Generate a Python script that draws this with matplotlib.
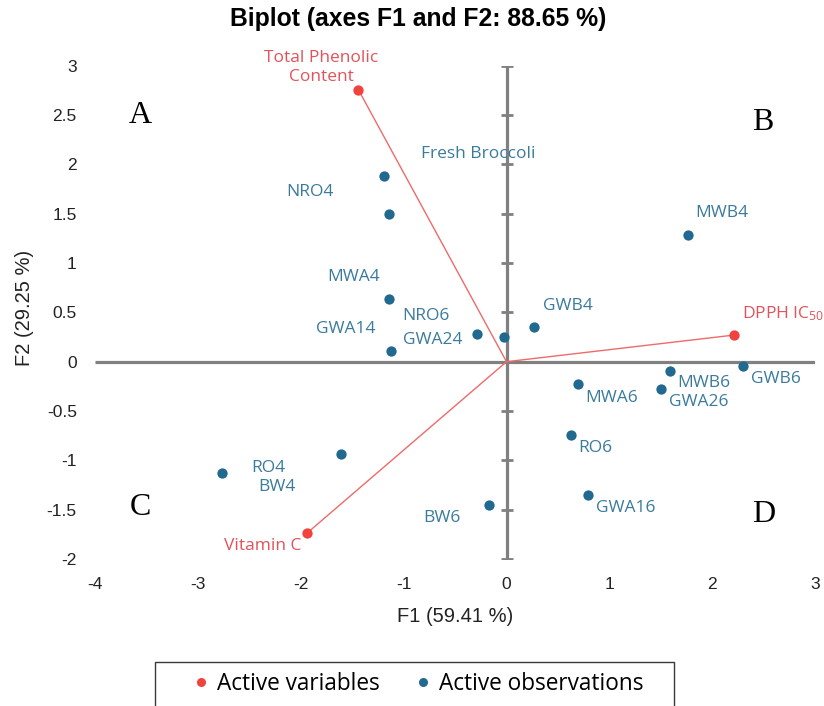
import matplotlib
matplotlib.use("Agg")
import matplotlib.pyplot as plt
from matplotlib.lines import Line2D
from matplotlib.patches import Rectangle

plt.rcParams['axes.unicode_minus'] = False
plt.rcParams['mathtext.default'] = 'regular'

# ---------------- data ----------------
var_names = ["Total Phenolic\nContent", "DPPH IC$_{50}$", "Vitamin C"]
var_f1 = [-1.44, 2.21, -1.94]
var_f2 = [2.76, 0.27, -1.74]

obs_names = ["Fresh Broccoli", "NRO4", "MWA4", "GWA14", "NRO6", "GWA24", "GWB4", "MWB4",
             "MWA6", "MWB6", "GWA26", "GWB6", "RO6", "GWA16", "BW6", "RO4", "BW4"]
obs_f1 = [-1.19, -1.14, -1.14, -1.12, -0.29, -0.02, 0.27, 1.76,
          0.69, 1.59, 1.50, 2.30, 0.63, 0.79, -0.17, -1.61, -2.76]
obs_f2 = [1.88, 1.50, 0.64, 0.11, 0.28, 0.25, 0.35, 1.28,
          -0.23, -0.09, -0.28, -0.04, -0.74, -1.35, -1.45, -0.94, -1.13]

x_ticks = [-4, -3, -2, -1, 0, 1, 2, 3]
y_ticks = [-2, -1.5, -1, -0.5, 0, 0.5, 1, 1.5, 2, 2.5, 3]
y_tick_labels = ["-2", "-1.5", "-1", "-0.5", "0", "0.5", "1", "1.5", "2", "2.5", "3"]

quadrant_letters = ["A", "B", "C", "D"]
quadrant_x = [-3.555, 2.486, -3.562, 2.494]
quadrant_y = [2.50, 2.43, -1.48, -1.55]

title = "Biplot (axes F1 and F2: 88.65 %)"
xlabel = "F1 (59.41 %)"
ylabel = "F2 (29.25 %)"

# label offsets in pixels (dx right, dy up) relative to their point
var_offsets = [(-36.7, 22.2, 'center'), (7.7, 21.6, 'left'), (-44.3, -13.0, 'center')]
obs_offsets = [(94.3, 22.3), (-79.5, 21.7), (-35.8, 22.0), (-45.7, 22.0), (-50.7, 18.4),
               (-71.2, -3.3), (33.5, 21.3), (34.3, 22.0), (33.7, -13.7), (34.0, -12.6),
               (38.2, -13.0), (32.8, -13.3), (24.3, -13.4), (37.7, -12.7), (-47.5, -13.0),
               (-72.7, -13.4), (54.3, -13.4)]

# ---------------- style ----------------
RED_DOT = '#f2423d'
RED_TXT = '#e3525a'
RED_LINE = '#ef6a6a'
BLUE_DOT = '#22698f'
BLUE_TXT = '#3a7b9d'
GRAY = '#808080'
LABEL_FONT = 'Open Sans'
AX_FONT = 'Liberation Sans'

W, H = 824, 706
fig = plt.figure(figsize=(W / 100, H / 100), dpi=100)
ax = fig.add_axes([94.9 / W, 1 - 558.9 / H, 720.3 / W, 493.0 / H])
ax.set_xlim(-4, 3)
ax.set_ylim(-2, 3)
for s in ax.spines.values():
    s.set_visible(False)

ax.set_xticks(x_ticks)
ax.set_xticklabels([str(v) for v in x_ticks])
ax.set_yticks(y_ticks)
ax.set_yticklabels(y_tick_labels)
ax.tick_params(axis='x', length=0, pad=13, labelsize=12.5)
ax.tick_params(axis='y', length=0, pad=13, labelsize=12.5)
for lab in ax.get_xticklabels() + ax.get_yticklabels():
    lab.set_fontfamily(AX_FONT)
    lab.set_color('#222222')

# axes through origin
ax.plot([x_ticks[0], x_ticks[-1]], [0, 0], color=GRAY, lw=2.3, zorder=1, solid_capstyle='butt')
ax.plot([0, 0], [y_ticks[0], y_ticks[-1]], color=GRAY, lw=2.3, zorder=1, solid_capstyle='butt')
ax.plot([0] * len(y_ticks), y_ticks, ls='none', marker='_', markersize=9, mew=2.0,
        color=GRAY, zorder=1)

# variable vectors
for x, y in zip(var_f1, var_f2):
    ax.plot([0, x], [0, y], color=RED_LINE, lw=1.0, zorder=2)
ax.scatter(var_f1, var_f2, s=55, color=RED_DOT, zorder=4, linewidths=0)
for name, x, y, (dx, dy, ha) in zip(var_names, var_f1, var_f2, var_offsets):
    ax.annotate(name, (x, y), xytext=(dx, dy), textcoords='offset pixels',
                ha=ha, va='center', color=RED_TXT, fontsize=12.5, family=LABEL_FONT,
                multialignment='center', linespacing=1.2, annotation_clip=False)

# observations
ax.scatter(obs_f1, obs_f2, s=55, color=BLUE_DOT, zorder=4, linewidths=0)
for name, x, y, (dx, dy) in zip(obs_names, obs_f1, obs_f2, obs_offsets):
    ax.annotate(name, (x, y), xytext=(dx, dy), textcoords='offset pixels',
                ha='center', va='center', color=BLUE_TXT, fontsize=12.5, family=LABEL_FONT)

# quadrant letters
for L, x, y in zip(quadrant_letters, quadrant_x, quadrant_y):
    ax.text(x, y, L, ha='center', va='center', fontsize=23, family='Liberation Serif',
            color='black')

# titles
fig.text(418 / W, 1 - 19 / H, title, ha='center', va='center', fontsize=17.8,
         fontweight='bold', family=AX_FONT, color='black')
fig.text(455 / W, 1 - 616.7 / H, xlabel, ha='center', va='center', fontsize=14.5,
         family=AX_FONT, color='#222222')
fig.text(25 / W, 1 - 307.5 / H, ylabel, ha='center', va='center', rotation=90,
         fontsize=14.5, family=AX_FONT, color='#222222')

# legend box (bottom edge falls below the figure edge)
fig.patches.append(Rectangle((155 / W, 1 - 712 / H), 519 / W, 50 / H,
                             transform=fig.transFigure, fill=False,
                             edgecolor='#3a3a3a', lw=1.0))
handles = [Line2D([], [], ls='none', marker='o', markersize=6.5, color=RED_DOT, mew=0),
           Line2D([], [], ls='none', marker='o', markersize=6.5, color=BLUE_DOT, mew=0)]
fig.legend(handles, ["Active variables", "Active observations"], loc='center',
           bbox_to_anchor=(419 / W, 1 - 684 / H), ncol=2, frameon=False,
           prop={'family': LABEL_FONT, 'size': 16.3}, handlelength=0.6,
           handletextpad=0.4, columnspacing=1.6, borderpad=0)

fig.savefig('out.png', dpi=100)
